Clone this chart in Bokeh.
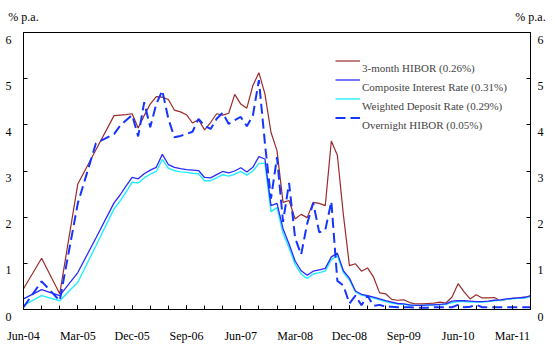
import pandas as pd
from bokeh.plotting import figure
from bokeh.models import (Range1d, LinearAxis, FixedTicker, Legend, LegendItem,
                          ColumnDataSource)
from bokeh.embed import file_html
from bokeh.resources import INLINE

# ---- data -----------------------------------------------------------------
dates = ["2004-06", "2004-09", "2004-12", "2005-03", "2005-06", "2005-09"] + \
        [f"{d:%Y-%m}" for d in pd.date_range("2005-10-01", "2011-06-01", freq="MS")]

hibor_3m = [0.45, 1.11, 0.34, 2.72, 3.46, 4.20, 4.21, 4.22,
            4.24, 3.93, 4.20, 4.45, 4.61, 4.60, 4.55, 4.32, 4.28, 4.22, 4.04, 4.11,
            3.89, 4.05, 4.24, 4.21, 4.25, 4.66, 4.45, 4.36, 4.85, 5.13, 4.67, 3.84,
            3.44, 2.32, 2.36, 1.96, 2.06, 1.99, 2.32, 2.30, 2.25, 3.65, 3.34, 2.05,
            0.95, 0.99, 0.83, 0.90, 0.70, 0.36, 0.34, 0.22, 0.20, 0.21, 0.15, 0.12,
            0.12, 0.13, 0.14, 0.16, 0.14, 0.27, 0.56, 0.38, 0.23, 0.32, 0.25, 0.25,
            0.26, 0.19, 0.22, 0.24, 0.25, 0.27, 0.28]

composite = [0.23, 0.43, 0.30, 0.80, 1.55, 2.31, 2.48, 2.68,
             2.86, 2.83, 2.94, 3.02, 3.08, 3.36, 3.14, 3.08, 3.05, 3.03, 3.02, 3.01,
             2.86, 2.85, 2.92, 2.99, 2.96, 3.00, 3.07, 2.98, 3.08, 3.31, 3.26, 2.25,
             2.30, 1.75, 1.42, 1.05, 0.84, 0.74, 0.83, 0.86, 0.89, 1.14, 1.22, 0.84,
             0.68, 0.40, 0.33, 0.30, 0.27, 0.23, 0.19, 0.16, 0.13, 0.12, 0.10, 0.09,
             0.09, 0.10, 0.10, 0.11, 0.12, 0.18, 0.19, 0.19, 0.18, 0.17, 0.17, 0.18,
             0.20, 0.21, 0.23, 0.24, 0.25, 0.26, 0.30]

deposit = [0.09, 0.30, 0.19, 0.59, 1.38, 2.18, 2.35, 2.55,
           2.76, 2.74, 2.85, 2.93, 2.99, 3.25, 3.06, 3.01, 2.98, 2.97, 2.95, 2.94,
           2.79, 2.79, 2.85, 2.92, 2.89, 2.93, 2.99, 2.91, 3.00, 3.16, 3.17, 2.12,
           2.21, 1.65, 1.34, 0.98, 0.77, 0.67, 0.77, 0.80, 0.83, 1.08, 1.17, 0.80,
           0.64, 0.38, 0.31, 0.28, 0.25, 0.21, 0.17, 0.14, 0.12, 0.11, 0.09, 0.09,
           0.09, 0.09, 0.10, 0.10, 0.11, 0.15, 0.17, 0.17, 0.16, 0.16, 0.16, 0.17,
           0.19, 0.20, 0.22, 0.23, 0.24, 0.25, 0.28]

overnight = [0.05, 0.61, 0.19, 2.30, 3.60, 3.80, 3.98, 4.10,
             4.21, 3.75, 4.49, 3.95, 4.45, 4.74, 4.13, 3.73, 3.76, 3.80, 3.85, 4.13,
             3.98, 3.91, 4.13, 4.26, 4.02, 4.10, 4.17, 3.97, 4.20, 4.97, 3.60, 2.40,
             3.30, 1.90, 2.74, 1.55, 1.19, 1.86, 2.31, 1.67, 1.72, 2.34, 0.62, 0.52,
             0.13, 0.30, 0.09, 0.30, 0.08, 0.10, 0.06, 0.06, 0.05, 0.05, 0.05, 0.04,
             0.04, 0.04, 0.05, 0.05, 0.05, 0.05, 0.10, 0.05, 0.06, 0.10, 0.05, 0.05,
             0.05, 0.05, 0.05, 0.05, 0.05, 0.05, 0.05]

series_names = ["3-month HIBOR (0.26%)", "Composite Interest Rate (0.31%)",
                "Weighted Deposit Rate (0.29%)", "Overnight HIBOR (0.05%)"]

xtick_labels = ["Jun-04", "Mar-05", "Dec-05", "Sep-06", "Jun-07", "Mar-08",
                "Dec-08", "Sep-09", "Jun-10", "Mar-11"]
ytick_values = [0, 1, 2, 3, 4, 5, 6]
unit_label = "% p.a."

# ---- build ------------------------------------------------------------------
month_idx = [(int(d[:4]) - 2004) * 12 + int(d[5:7]) - 6 for d in dates]
src = ColumnDataSource(dict(x=month_idx, h3=hibor_3m, comp=composite,
                            dep=deposit, on=overnight))

FONT = "Liberation Serif"

p = figure(width=555, height=349, output_backend="svg", toolbar_location=None,
           x_range=Range1d(0, 84), y_range=Range1d(0, 6),
           min_border_left=23, min_border_right=25, min_border_top=32,
           min_border_bottom=40, background_fill_color="white",
           border_fill_color="white")
p.xgrid.visible = False
p.ygrid.visible = False
p.outline_line_color = "black"
p.outline_line_width = 1

r_h3 = p.line("x", "h3", source=src, line_color="#9B2B2B", line_width=1.2)
r_dep = p.line("x", "dep", source=src, line_color="#22EEFF", line_width=1.4)
r_comp = p.line("x", "comp", source=src, line_color="#2A2AFF", line_width=1.3)
r_on = p.line("x", "on", source=src, line_color="#1535FF", line_width=2,
              line_dash="10 5")

# x axis
xpos = [i * 9 for i in range(len(xtick_labels))]
xa = p.xaxis[0]
xa.ticker = FixedTicker(ticks=xpos, minor_ticks=list(range(0, 85, 3)))
xa.major_label_overrides = {x: lab for x, lab in zip(xpos, xtick_labels)}
xa.major_tick_in = 4
xa.major_tick_out = 0
xa.minor_tick_in = 4
xa.minor_tick_out = 0
xa.major_label_standoff = 19
xa.major_label_text_font = FONT
xa.major_label_text_font_size = "12px"
xa.major_label_text_color = "black"
xa.axis_line_color = "black"

# y axes
ya = p.yaxis[0]
yr = LinearAxis()
p.add_layout(yr, "right")
for ax, so in ((ya, 12), (yr, 7)):
    ax.ticker = FixedTicker(ticks=ytick_values)
    ax.major_label_overrides = {v: "\n" + str(v) for v in ytick_values}
    ax.major_tick_in = 4
    ax.major_tick_out = 0
    ax.minor_tick_in = 0
    ax.minor_tick_out = 0
    ax.major_label_standoff = so
    ax.major_label_text_font = FONT
    ax.major_label_text_font_size = "12px"
    ax.major_label_text_line_height = 1.0
    ax.major_label_text_color = "black"
    ax.axis_line_color = "black"

# unit labels above both y axes
p.extra_x_ranges = {"unit": Range1d(0, 1)}
ua = LinearAxis(x_range_name="unit", ticker=FixedTicker(ticks=[0, 1]),
                major_label_overrides={0: unit_label, 1: unit_label},
                axis_line_color=None, major_tick_line_color=None,
                minor_tick_line_color=None, major_label_standoff=3,
                major_label_text_font=FONT, major_label_text_font_size="12px",
                major_label_text_color="black")
p.add_layout(ua, "above")

# legend: line samples sit a little above their texts, as in the original
renderers = [r_h3, r_comp, r_dep, r_on]
common = dict(padding=0, margin=0, spacing=4, glyph_height=15, label_height=15,
              label_text_font=FONT, label_text_font_size="11px",
              background_fill_alpha=0, border_line_color=None)
legend_lines = Legend(items=[LegendItem(label="", renderers=[r]) for r in renderers],
                      location=(312, 184), glyph_width=25, label_standoff=0,
                      label_width=0, **common)
legend_text = Legend(items=[LegendItem(label=name, renderers=[r])
                            for name, r in zip(series_names, renderers)],
                     location=(312, 177), glyph_width=0, label_standoff=27,
                     **common)
p.add_layout(legend_lines, "center")
p.add_layout(legend_text, "center")

open("out.html", "w").write(file_html(p, INLINE))
